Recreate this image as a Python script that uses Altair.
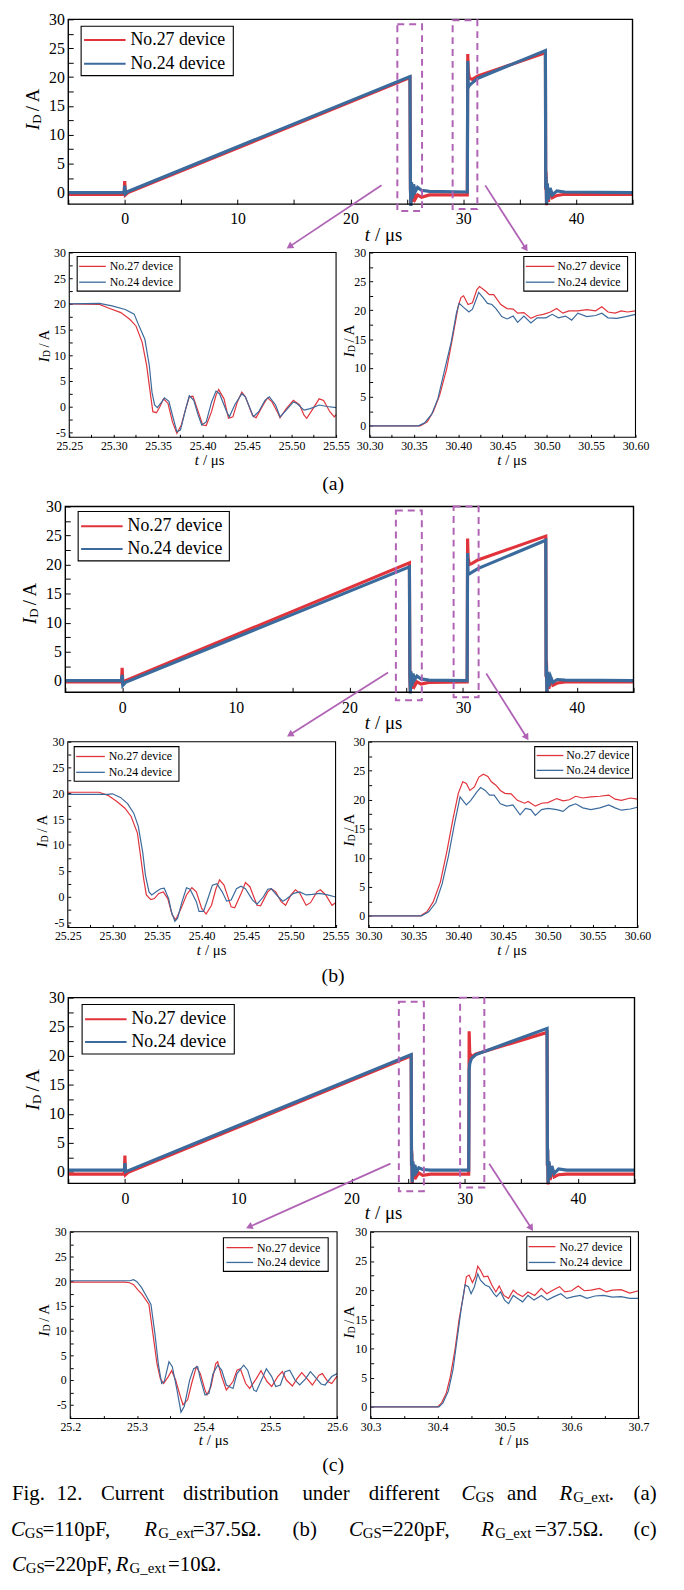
import altair as alt
import pandas as pd

FONT = "Liberation Serif, Times New Roman, serif"
RED = "#e1333b"
BLUE = "#3b6a9c"
PURPLE = "#b063b5"
W, H = 676, 1582
OX, OY = 8, 8
DEVICES = ["No.27 device", "No.24 device"]

# ---------------- main panels (t in us, I_D in A) ----------------
MA_T = [-5.0, -0.05, 0.0, 0.06, 0.3, 25.28, 25.32, 25.36, 25.42, 25.5, 25.6, 25.75, 25.95, 26.3, 27.0,
        30.36, 30.40, 30.44, 30.55, 30.8, 31.3, 37.28, 37.31, 37.34, 37.38, 37.45, 37.55, 37.7, 37.9,
        38.3, 39.0, 45.0]
MA_RED = [-0.3, -0.3, 2.0, -0.4, 0.0, 19.9, 0.5, -2.0, 1.0, -1.6, 0.4, -1.1, -0.4, -0.8, -0.4,
          -0.4, 24.0, 21.0, 19.8, 19.6, 20.2, 24.2, 0.5, 3.6, -2.2, 1.4, -1.6, 0.6, -0.9, -0.5, -0.3, -0.3]
MA_BLUE = [0.0, 0.0, 1.2, -0.2, 0.2, 20.1, 0.8, -2.3, 1.8, -1.0, 1.4, 0.2, 0.9, 0.4, 0.2,
           0.1, 22.8, 18.2, 18.6, 19.0, 19.8, 24.6, 0.8, 2.8, -2.0, 1.6, -1.2, 0.8, -0.4, 0.3, 0.1, 0.0]

MB_T = MA_T
MB_RED = [-0.2, -0.2, 2.2, -0.3, 0.0, 20.3, 0.6, -1.8, 1.2, -1.4, 0.5, -0.9, -0.2, -0.6, -0.3,
          -0.2, 24.5, 21.2, 20.0, 20.2, 20.8, 24.9, 0.6, 3.4, -2.0, 1.4, -1.4, 0.6, -0.8, -0.4, -0.2, -0.2]
MB_BLUE = [0.0, 0.0, 1.0, -0.8, -0.3, 19.6, 0.8, -2.2, 1.6, -1.0, 1.2, 0.2, 0.8, 0.3, 0.1,
           0.0, 22.0, 18.3, 18.4, 18.7, 19.3, 24.2, 0.8, 2.6, -2.0, 1.5, -1.0, 0.7, -0.3, 0.2, 0.1, 0.0]

MC_T = [-5.0, -0.05, 0.0, 0.06, 0.3, 25.28, 25.31, 25.33, 25.37, 25.43, 25.5, 25.6, 25.75, 25.95, 26.3,
        27.0, 30.36, 30.40, 30.45, 30.6, 31.0, 37.28, 37.31, 37.33, 37.37, 37.45, 37.55, 37.7, 37.9,
        38.3, 39.0, 45.0]
MC_RED = [-0.4, -0.4, 2.8, -0.5, -0.1, 20.0, 1.0, 3.6, -2.0, 1.4, -1.3, 0.6, -0.8, -0.2, -0.6,
          -0.4, -0.4, 24.2, 20.5, 19.8, 20.3, 24.0, 1.0, 3.8, -2.2, 1.5, -1.4, 0.5, -0.9, -0.5, -0.4, -0.4]
MC_BLUE = [0.3, 0.3, 1.5, 0.0, 0.2, 20.2, 1.2, 3.2, -1.8, 1.8, -0.8, 1.2, 0.0, 0.7, 0.4,
           0.3, 0.3, 17.5, 18.6, 19.5, 20.2, 24.7, 1.2, 4.0, -1.9, 1.8, -1.0, 1.0, -0.3, 0.5, 0.3, 0.3]

# ---------------- zoomed panels ----------------
SA_L_RED_T = [25.250, 25.284, 25.294, 25.308, 25.318, 25.325, 25.332, 25.337, 25.342, 25.344, 25.348, 25.352,
              25.356, 25.361, 25.366, 25.371, 25.376, 25.381, 25.385, 25.389, 25.395, 25.400, 25.404, 25.410,
              25.415, 25.418, 25.424, 25.429, 25.434, 25.439, 25.444, 25.448, 25.456, 25.460, 25.468, 25.473,
              25.478, 25.485, 25.487, 25.494, 25.502, 25.509, 25.514, 25.517, 25.523, 25.531, 25.536, 25.543,
              25.548, 25.550]
SA_L_RED_V = [20.0, 19.9, 19.2, 18.3, 17.0, 15.7, 12.5, 8.0, 1.5, -1.0, -1.2, 0.0, 1.5, 0.6, -3.0, -5.2, -3.6,
              -0.4, 1.9, 2.0, -1.0, -3.6, -3.7, -1.0, 2.2, 3.3, 1.5, -2.3, -2.0, 0.9, 2.8, 1.9, -1.7, -2.2, 0.3,
              1.7, 0.9, -1.4, -2.2, -0.4, 1.2, 0.3, -1.7, -2.3, -0.7, 1.5, 1.2, -1.0, -2.0, -1.6]
SA_L_BLUE_T = [25.250, 25.284, 25.298, 25.313, 25.323, 25.327, 25.335, 25.340, 25.343, 25.346, 25.349, 25.354,
               25.357, 25.362, 25.366, 25.371, 25.375, 25.381, 25.385, 25.390, 25.395, 25.399, 25.404, 25.410,
               25.415, 25.419, 25.427, 25.430, 25.436, 25.444, 25.448, 25.457, 25.463, 25.470, 25.475, 25.482,
               25.487, 25.494, 25.502, 25.506, 25.514, 25.521, 25.531, 25.540, 25.550]
SA_L_BLUE_V = [20.0, 20.1, 19.6, 18.9, 18.0, 16.3, 13.1, 8.0, 2.8, 0.3, -0.2, 0.9, 1.7, 1.0, -1.7, -4.9, -4.6,
               -0.4, 2.1, 1.2, -1.7, -3.6, -3.0, 0.9, 3.0, 2.5, -1.0, -2.0, 0.3, 2.5, 1.9, -2.0, -1.0, 1.2, 1.9,
               0.3, -2.0, -0.7, 0.9, 0.6, -0.7, -0.4, 0.3, 0.0, -0.2]

SA_R_RED_T = [30.300, 30.357, 30.365, 30.372, 30.379, 30.387, 30.394, 30.400, 30.403, 30.406, 30.411, 30.416,
              30.421, 30.424, 30.431, 30.435, 30.440, 30.448, 30.455, 30.462, 30.467, 30.474, 30.482, 30.489,
              30.496, 30.504, 30.511, 30.518, 30.525, 30.535, 30.545, 30.555, 30.562, 30.569, 30.577, 30.584,
              30.591, 30.600]
SA_R_RED_V = [0.0, 0.0, 0.7, 2.5, 5.3, 9.9, 15.6, 20.7, 22.2, 22.5, 21.0, 21.3, 23.6, 24.1, 23.3, 22.7, 22.7,
              21.0, 20.3, 20.2, 19.5, 19.6, 18.6, 19.1, 19.3, 19.7, 20.3, 19.5, 19.9, 19.9, 20.1, 19.9, 20.6,
              19.7, 19.5, 19.9, 19.7, 19.9]
SA_R_BLUE_T = [30.300, 30.355, 30.362, 30.370, 30.377, 30.384, 30.392, 30.398, 30.401, 30.406, 30.412, 30.416,
               30.421, 30.423, 30.428, 30.433, 30.438, 30.443, 30.449, 30.455, 30.462, 30.467, 30.474, 30.482,
               30.489, 30.499, 30.506, 30.513, 30.521, 30.528, 30.535, 30.545, 30.555, 30.562, 30.569, 30.579,
               30.589, 30.600]
SA_R_BLUE_V = [0.0, 0.0, 0.5, 2.0, 4.7, 9.3, 14.5, 19.6, 21.2, 20.5, 19.7, 20.2, 22.2, 23.1, 22.2, 21.2, 21.0,
               20.2, 18.9, 18.5, 19.0, 17.9, 19.0, 17.8, 18.7, 18.7, 19.3, 18.7, 19.0, 18.3, 19.5, 18.9, 19.1,
               19.5, 18.7, 18.6, 18.9, 19.3]

SB_L_RED_T = [25.250, 25.285, 25.295, 25.305, 25.314, 25.321, 25.328, 25.331, 25.335, 25.338, 25.343, 25.347,
              25.352, 25.357, 25.362, 25.367, 25.371, 25.377, 25.383, 25.389, 25.394, 25.400, 25.405, 25.411,
              25.416, 25.420, 25.425, 25.433, 25.437, 25.445, 25.449, 25.454, 25.462, 25.466, 25.474, 25.478,
              25.483, 25.489, 25.494, 25.500, 25.505, 25.510, 25.517, 25.522, 25.529, 25.533, 25.539, 25.546,
              25.550]
SB_L_RED_V = [20.2, 20.2, 19.6, 18.4, 17.1, 15.5, 12.3, 8.5, 3.4, 0.3, -0.6, -0.4, 0.6, 0.9, -0.4, -3.6, -4.5,
              -2.3, 0.3, 1.7, 0.9, -2.3, -3.4, -1.7, 1.5, 3.2, 2.2, -2.0, -2.2, 0.9, 2.7, 1.9, -1.7, -1.8, 0.9,
              1.5, 0.9, -1.0, -1.7, 0.3, 1.3, 0.6, -1.7, -1.2, 0.9, 1.3, 0.3, -1.7, -1.2]
SB_L_BLUE_T = [25.250, 25.295, 25.300, 25.309, 25.317, 25.324, 25.329, 25.334, 25.337, 25.341, 25.344, 25.349,
               25.354, 25.358, 25.363, 25.366, 25.370, 25.373, 25.378, 25.383, 25.387, 25.394, 25.397, 25.402,
               25.407, 25.412, 25.417, 25.423, 25.428, 25.433, 25.439, 25.444, 25.449, 25.457, 25.462, 25.469,
               25.474, 25.478, 25.486, 25.491, 25.495, 25.503, 25.510, 25.517, 25.524, 25.532, 25.541, 25.550]
SB_L_BLUE_V = [19.8, 19.8, 19.9, 19.2, 18.0, 16.1, 13.6, 8.5, 4.1, 0.9, 0.3, 0.9, 1.5, 1.6, -0.4, -2.9, -4.8,
               -4.2, -1.0, 1.7, 1.4, -1.0, -2.9, -2.9, -0.4, 2.2, 2.5, 0.9, -0.9, -0.7, 1.5, 2.0, 1.5, -0.7,
               -1.5, -0.1, 1.4, 1.5, -0.1, -0.9, -0.5, 0.6, 0.9, 0.3, 0.4, 0.6, 0.3, -0.1]

SB_R_RED_T = [30.300, 30.358, 30.365, 30.372, 30.380, 30.387, 30.394, 30.400, 30.405, 30.409, 30.413, 30.418,
              30.423, 30.428, 30.433, 30.437, 30.442, 30.447, 30.452, 30.459, 30.466, 30.474, 30.478, 30.486,
              30.493, 30.500, 30.510, 30.517, 30.524, 30.531, 30.539, 30.548, 30.558, 30.568, 30.575, 30.582,
              30.592, 30.600]
SB_R_RED_V = [0.0, 0.0, 0.7, 2.4, 5.8, 10.9, 16.6, 21.1, 23.1, 22.8, 21.6, 22.2, 23.9, 24.4, 24.0, 23.1, 22.5,
              21.6, 21.1, 21.0, 19.9, 19.4, 19.7, 18.9, 19.4, 19.5, 20.2, 19.8, 20.0, 20.6, 20.3, 20.5, 20.6,
              20.8, 20.1, 19.9, 20.3, 20.1]
SB_R_BLUE_T = [30.300, 30.359, 30.367, 30.375, 30.382, 30.389, 30.396, 30.402, 30.405, 30.409, 30.414, 30.421,
               30.425, 30.430, 30.435, 30.440, 30.447, 30.454, 30.461, 30.469, 30.475, 30.481, 30.486, 30.493,
               30.500, 30.510, 30.517, 30.524, 30.531, 30.539, 30.548, 30.558, 30.568, 30.575, 30.582, 30.592,
               30.600]
SB_R_BLUE_V = [0.0, 0.0, 0.7, 2.3, 5.5, 10.3, 16.0, 20.5, 19.9, 19.1, 19.9, 21.4, 22.1, 21.6, 20.8, 20.8, 19.3,
               18.9, 19.1, 17.4, 18.5, 18.3, 17.3, 18.3, 18.5, 18.3, 18.0, 18.9, 19.3, 18.6, 18.3, 18.6, 19.1,
               18.6, 18.2, 18.4, 18.7]

SC_L_RED_T = [25.200, 25.282, 25.289, 25.295, 25.301, 25.308, 25.318, 25.324, 25.330, 25.335, 25.340, 25.347,
              25.352, 25.358, 25.365, 25.369, 25.376, 25.382, 25.389, 25.395, 25.402, 25.405, 25.411, 25.418,
              25.421, 25.427, 25.434, 25.444, 25.450, 25.455, 25.463, 25.469, 25.479, 25.486, 25.495, 25.502,
              25.511, 25.518, 25.524, 25.533, 25.540, 25.547, 25.555, 25.563, 25.573, 25.578, 25.586, 25.592,
              25.600]
SC_L_RED_V = [19.8, 19.8, 19.7, 19.3, 18.3, 17.3, 15.3, 9.3, 3.3, 0.3, -0.7, 0.7, 1.9, 0.0, -3.3, -5.0, -4.0,
              -0.7, 2.7, 1.3, -2.0, -3.0, -1.3, 3.3, 3.7, 0.7, -2.0, -0.3, 2.0, 2.3, -0.7, -1.7, 0.3, 1.9, -0.3,
              -1.3, 0.7, 1.7, 0.0, -1.2, 0.3, 1.5, 0.3, -1.0, 1.0, 1.3, -0.3, -0.7, 0.8]
SC_L_BLUE_T = [25.200, 25.289, 25.295, 25.300, 25.307, 25.314, 25.321, 25.327, 25.332, 25.337, 25.341, 25.348,
               25.353, 25.360, 25.366, 25.371, 25.379, 25.385, 25.391, 25.395, 25.402, 25.408, 25.414, 25.421,
               25.427, 25.434, 25.444, 25.450, 25.460, 25.466, 25.475, 25.479, 25.489, 25.494, 25.502, 25.508,
               25.515, 25.522, 25.529, 25.537, 25.544, 25.553, 25.560, 25.566, 25.576, 25.582, 25.592, 25.600]
SC_L_BLUE_V = [20.1, 20.1, 20.3, 19.9, 18.7, 17.0, 15.3, 9.3, 3.3, -0.7, -0.3, 3.7, 2.7, -2.0, -6.5, -5.3, 0.0,
               2.3, 2.7, 0.3, -3.0, -2.7, 1.3, 3.0, 2.0, -1.0, -1.7, 1.3, 3.0, 2.0, -2.0, -2.3, 0.7, 2.3, 0.7,
               -1.3, -1.0, 1.7, 2.0, 0.0, -1.0, 0.3, 1.7, 0.8, -0.8, -1.0, 0.7, 1.3]

SC_R_RED_T = [30.300, 30.400, 30.406, 30.413, 30.419, 30.426, 30.432, 30.439, 30.443, 30.447, 30.452, 30.456,
              30.460, 30.464, 30.469, 30.475, 30.481, 30.487, 30.492, 30.499, 30.506, 30.513, 30.519, 30.527,
              30.535, 30.545, 30.555, 30.563, 30.572, 30.582, 30.590, 30.600, 30.610, 30.619, 30.629, 30.642,
              30.652, 30.661, 30.674, 30.687, 30.700]
SC_R_RED_V = [0.0, 0.0, 0.7, 2.4, 5.2, 9.8, 14.9, 19.4, 22.3, 22.6, 21.3, 22.2, 24.1, 23.4, 22.3, 22.4, 20.9,
              19.7, 20.7, 19.1, 18.6, 20.0, 19.4, 18.9, 19.7, 19.1, 20.3, 19.4, 20.0, 20.6, 19.7, 19.9, 20.7,
              19.9, 20.0, 20.3, 19.7, 20.0, 20.1, 19.5, 19.9]
SC_R_BLUE_T = [30.300, 30.402, 30.408, 30.416, 30.423, 30.429, 30.435, 30.441, 30.446, 30.450, 30.455, 30.460,
               30.464, 30.471, 30.477, 30.484, 30.488, 30.494, 30.500, 30.506, 30.513, 30.519, 30.527, 30.535,
               30.544, 30.555, 30.564, 30.574, 30.584, 30.593, 30.603, 30.613, 30.623, 30.635, 30.648, 30.661,
               30.674, 30.687, 30.700]
SC_R_BLUE_V = [0.0, 0.0, 0.7, 2.7, 6.4, 11.5, 16.6, 20.9, 20.6, 19.4, 20.6, 22.8, 21.7, 20.9, 20.6, 19.4, 18.9,
               19.7, 18.3, 17.7, 19.1, 18.6, 18.0, 19.1, 18.3, 19.1, 18.3, 18.9, 19.4, 18.6, 18.9, 19.1, 18.6,
               19.0, 19.1, 18.8, 18.9, 18.6, 18.6]

# ---------------- ticks ----------------
MAIN_XTICKS = [-5, 0, 5, 10, 15, 20, 25, 30, 35, 40, 45]
MAIN_XLABELS = [0, 10, 20, 30, 40]
MAIN_YTICKS = [0, 2.5, 5, 7.5, 10, 12.5, 15, 17.5, 20, 22.5, 25, 27.5, 30]
MAIN_YLABELS = [0, 5, 10, 15, 20, 25, 30]
SUB_L_XLABELS = [25.25, 25.30, 25.35, 25.40, 25.45, 25.50, 25.55]
SUB_L_XTICKS = [25.25, 25.275, 25.30, 25.325, 25.35, 25.375, 25.40, 25.425, 25.45, 25.475, 25.50, 25.525, 25.55]
SUB_R_XLABELS = [30.30, 30.35, 30.40, 30.45, 30.50, 30.55, 30.60]
SUB_R_XTICKS = [30.30, 30.325, 30.35, 30.375, 30.40, 30.425, 30.45, 30.475, 30.50, 30.525, 30.55, 30.575, 30.60]
SUBC_L_XLABELS = [25.2, 25.3, 25.4, 25.5, 25.6]
SUBC_L_XTICKS = [25.2, 25.25, 25.3, 25.35, 25.4, 25.45, 25.5, 25.55, 25.6]
SUBC_R_XLABELS = [30.3, 30.4, 30.5, 30.6, 30.7]
SUBC_R_XTICKS = [30.3, 30.35, 30.4, 30.45, 30.5, 30.55, 30.6, 30.65, 30.7]
SUB_L_YLABELS = [-5, 0, 5, 10, 15, 20, 25, 30]
SUB_L_YTICKS = [-5, -2.5, 0, 2.5, 5, 7.5, 10, 12.5, 15, 17.5, 20, 22.5, 25, 27.5, 30]
SUB_R_YLABELS = [0, 5, 10, 15, 20, 25, 30]
SUB_R_YTICKS = MAIN_YTICKS

# dashed zoom boxes and arrows (main-panel data coordinates)
MA_BOX = dict(x0=[24.16, 29.06], x1=[26.35, 31.25], y0=[-3.2, -2.86], y1=[29.14, 29.83])
MB_BOX = dict(x0=[24.09, 29.17], x1=[26.37, 31.37], y0=[-3.36, -2.85], y1=[29.3, 30.0])
MC_BOX = dict(x0=[24.19, 29.6], x1=[26.4, 31.74], y0=[-3.36, -2.7], y1=[29.3, 30.0])
MA_ARROW = dict(xa=[22.76, 31.95], ya=[1.25, 1.25], xb=[14.6, 35.54], yb=[-9.36, -9.7], ang=[236, 147])
MB_ARROW = dict(xa=[23.4, 32.04], ya=[1.4, 1.23], xb=[14.76, 35.6], yb=[-9.3, -9.8], ang=[238, 148])
MC_ARROW = dict(xa=[23.45, 32.17], ya=[1.4, 1.4], xb=[10.97, 35.88], yb=[-9.5, -9.7], ang=[246, 147])

PANEL_LABELS = ["(a)", "(b)", "(c)"]

CAPTION_BASELINES = [1508, 1545, 1580]
CAPTION = [
    (0, 12, "Fig.", "n"), (0, 57, "12.", "n"), (0, 102, "Current", "n"), (0, 185, "distribution", "n"),
    (0, 306, "under", "n"), (0, 373, "different", "n"), (0, 467, "C", "i"), (0, 481, "GS", "s"),
    (0, 513, "and", "n"), (0, 566, "R", "i"), (0, 580, "G_ext", "s"), (0, 616, ".", "n"), (0, 641, "(a)", "n"),
    (1, 11, "C", "i"), (1, 25, "GS", "s"), (1, 43, "=110pF,", "n"), (1, 146, "R", "i"), (1, 160, "G_ext", "s"),
    (1, 195, "=37.5Ω.", "n"), (1, 296, "(b)", "n"), (1, 353, "C", "i"), (1, 367, "GS", "s"),
    (1, 386, "=220pF,", "n"), (1, 487, "R", "i"), (1, 501, "G_ext", "s"), (1, 541, "=37.5Ω.", "n"),
    (1, 641, "(c)", "n"),
    (2, 12, "C", "i"), (2, 26, "GS", "s"), (2, 44, "=220pF,", "n"), (2, 117, "R", "i"), (2, 131, "G_ext", "s"),
    (2, 170, "=10Ω.", "n"),
]
CAP_FS = 21
CAP_SUB_FS = 15

# ---------------- layout (page pixels) ----------------
MAIN_STYLE = dict(lfs=16, lpx=7, lpy=4, tl=5, lw=3.2, fw=1.4, xfmt="d",
                  xlabels=MAIN_XLABELS, xticks=MAIN_XTICKS, ylabels=MAIN_YLABELS, yticks=MAIN_YTICKS,
                  xdom=[-5, 45], ydom=[-2, 30])
SUB_STYLE = dict(lfs=12, lpx=3, lpy=4, tl=3, lw=1.2, fw=1.1)

PANELS = [
    dict(MAIN_STYLE, box=(69, 640, 10, 197), series=(MA_T, MA_RED, MA_T, MA_BLUE), boxes=MA_BOX, arrows=MA_ARROW,
         legend=dict(box=(82, 17, 236, 67), rows=(31, 55), sample=(85, 127), tx=132, fs=18, sw=2.0),
         xt=(369, 228, 19), yt=(33, 122, 19)),
    dict(SUB_STYLE, box=(70, 340, 246, 433), xdom=[25.25, 25.55], ydom=[-6, 30], xfmt=".2f",
         series=(SA_L_RED_T, SA_L_RED_V, SA_L_BLUE_T, SA_L_BLUE_V),
         xlabels=SUB_L_XLABELS, xticks=SUB_L_XTICKS, ylabels=SUB_L_YLABELS, yticks=SUB_L_YTICKS,
         legend=dict(box=(78, 250, 182, 285), rows=(260, 276), sample=(80, 107), tx=111, fs=12, sw=1.3),
         xt=(197, 456, 15), yt=(44, 357, 15)),
    dict(SUB_STYLE, box=(374, 643, 246, 433), xdom=[30.30, 30.60], ydom=[-2, 30], xfmt=".2f",
         series=(SA_R_RED_T, SA_R_RED_V, SA_R_BLUE_T, SA_R_BLUE_V),
         xlabels=SUB_R_XLABELS, xticks=SUB_R_XTICKS, ylabels=SUB_R_YLABELS, yticks=SUB_R_YTICKS,
         legend=dict(box=(530, 250, 635, 285), rows=(260, 276), sample=(532, 561), tx=564, fs=12, sw=1.3),
         xt=(503, 456, 15), yt=(353, 352, 15)),
    dict(MAIN_STYLE, box=(66, 641, 503, 691), series=(MB_T, MB_RED, MB_T, MB_BLUE), boxes=MB_BOX, arrows=MB_ARROW,
         legend=dict(box=(79, 508, 232, 558), rows=(523, 546), sample=(82, 124), tx=129, fs=18, sw=2.0),
         xt=(369, 722, 19), yt=(30, 622, 19)),
    dict(SUB_STYLE, box=(68.5, 339.5, 741, 929), xdom=[25.25, 25.55], ydom=[-6, 30], xfmt=".2f",
         series=(SB_L_RED_T, SB_L_RED_V, SB_L_BLUE_T, SB_L_BLUE_V),
         xlabels=SUB_L_XLABELS, xticks=SUB_L_XTICKS, ylabels=SUB_L_YLABELS, yticks=SUB_L_YTICKS,
         legend=dict(box=(75, 746, 181, 781), rows=(756, 772), sample=(77, 106), tx=110, fs=12, sw=1.3),
         xt=(199, 952, 15), yt=(42, 848, 15)),
    dict(SUB_STYLE, box=(373, 645, 741, 929), xdom=[30.30, 30.60], ydom=[-2, 30], xfmt=".2f",
         series=(SB_R_RED_T, SB_R_RED_V, SB_R_BLUE_T, SB_R_BLUE_V),
         xlabels=SUB_R_XLABELS, xticks=SUB_R_XTICKS, ylabels=SUB_R_YLABELS, yticks=SUB_R_YTICKS,
         legend=dict(box=(541, 746, 640, 778), rows=(755, 770), sample=(543, 570), tx=573, fs=12, sw=1.3),
         xt=(503, 952, 15), yt=(353, 847, 15)),
    dict(MAIN_STYLE, box=(69, 642, 1000, 1188), series=(MC_T, MC_RED, MC_T, MC_BLUE), boxes=MC_BOX, arrows=MC_ARROW,
         legend=dict(box=(83, 1007, 237, 1057), rows=(1022, 1045), sample=(86, 128), tx=133, fs=18, sw=2.0),
         xt=(369, 1218, 19), yt=(33, 1114, 19)),
    dict(SUB_STYLE, box=(71, 341, 1237, 1426), xdom=[25.2, 25.6], ydom=[-7.8, 30], xfmt=".1f",
         series=(SC_L_RED_T, SC_L_RED_V, SC_L_BLUE_T, SC_L_BLUE_V),
         xlabels=SUBC_L_XLABELS, xticks=SUBC_L_XTICKS, ylabels=SUB_L_YLABELS, yticks=SUB_L_YTICKS,
         legend=dict(box=(226, 1243, 332, 1277), rows=(1253, 1268), sample=(229, 256), tx=260, fs=12, sw=1.3),
         xt=(201, 1448, 15), yt=(44, 1343, 15)),
    dict(SUB_STYLE, box=(375, 646, 1237, 1426), xdom=[30.3, 30.7], ydom=[-2, 30], xfmt=".1f",
         series=(SC_R_RED_T, SC_R_RED_V, SC_R_BLUE_T, SC_R_BLUE_V),
         xlabels=SUBC_R_XLABELS, xticks=SUBC_R_XTICKS, ylabels=SUB_R_YLABELS, yticks=SUB_R_YTICKS,
         legend=dict(box=(533, 1242, 638, 1276), rows=(1252, 1268), sample=(535, 562), tx=566, fs=12, sw=1.3),
         xt=(505, 1448, 15), yt=(353, 1345, 15)),
]
LABEL_POS = [(337, 480), (337, 978), (337, 1473)]


def vx(v):
    return v - OX


def vy(v):
    return v - OY


NEG = "datum.value < 0 ? '-' + format(-datum.value, '{f}') : format(datum.value, '{f}')"


def panel_chart(cfg):
    L, R, T, B = cfg["box"]
    xs = alt.Scale(domain=cfg["xdom"], range=[vx(L), vx(R)], nice=False, zero=False)
    ys = alt.Scale(domain=cfg["ydom"], range=[vy(B), vy(T)], nice=False, zero=False)
    rt, rv, bt, bv = cfg["series"]
    n_r = min(len(rt), len(rv))
    n_b = min(len(bt), len(bv))
    df = pd.DataFrame({
        "t": list(rt[:n_r]) + list(bt[:n_b]),
        "v": list(rv[:n_r]) + list(bv[:n_b]),
        "col": [RED] * n_r + [BLUE] * n_b,
    })
    lab_x = alt.Axis(orient="bottom", offset=vy(B) - H, values=cfg["xlabels"], ticks=False, domain=False,
                     grid=False, labelFont=FONT, labelFontSize=cfg["lfs"], labelColor="black",
                     labelPadding=cfg["lpx"], labelFlush=False, labelOverlap=False,
                     labelExpr=NEG.format(f=cfg["xfmt"]), title=None)
    lab_y = alt.Axis(orient="left", offset=-vx(L), values=cfg["ylabels"], ticks=False, domain=False,
                     grid=False, labelFont=FONT, labelFontSize=cfg["lfs"], labelColor="black",
                     labelPadding=cfg["lpy"], labelOverlap=False, labelExpr=NEG.format(f="d"), title=None)
    lines = alt.Chart(df).mark_line(strokeWidth=cfg["lw"]).encode(
        x=alt.X("t:Q", scale=xs, axis=lab_x),
        y=alt.Y("v:Q", scale=ys, axis=lab_y),
        color=alt.Color("col:N", scale=None, legend=None),
    )
    fr = pd.DataFrame({"x0": [cfg["xdom"][0]], "x1": [cfg["xdom"][1]],
                       "y0": [cfg["ydom"][0]], "y1": [cfg["ydom"][1]]})
    tick_x = alt.Axis(orient="top", offset=-vy(B), values=cfg["xticks"], labels=False, domain=False,
                      grid=False, ticks=True, tickSize=cfg["tl"], tickColor="black", tickWidth=1, title=None)
    tick_y = alt.Axis(orient="right", offset=vx(L) - W, values=cfg["yticks"], labels=False, domain=False,
                      grid=False, ticks=True, tickSize=cfg["tl"], tickColor="black", tickWidth=1, title=None)
    frame = alt.Chart(fr).mark_rect(fillOpacity=0, stroke="black", strokeWidth=cfg["fw"]).encode(
        x=alt.X("x0:Q", scale=xs, axis=tick_x), x2="x1:Q",
        y=alt.Y("y0:Q", scale=ys, axis=tick_y), y2="y1:Q",
    )
    layers = [lines, frame]
    if "boxes" in cfg:
        bdf = pd.DataFrame(cfg["boxes"])
        layers.append(alt.Chart(bdf).mark_rect(fillOpacity=0, stroke=PURPLE, strokeWidth=2,
                                               strokeDash=[7, 5]).encode(
            x=alt.X("x0:Q", scale=xs, axis=None), x2="x1:Q",
            y=alt.Y("y0:Q", scale=ys, axis=None), y2="y1:Q"))
        adf = pd.DataFrame(cfg["arrows"])
        layers.append(alt.Chart(adf).mark_rule(stroke=PURPLE, strokeWidth=1.8).encode(
            x=alt.X("xa:Q", scale=xs, axis=None), x2="xb:Q",
            y=alt.Y("ya:Q", scale=ys, axis=None), y2="yb:Q"))
        layers.append(alt.Chart(adf).mark_point(shape="triangle-up", filled=True, size=60, color=PURPLE,
                                                opacity=1).encode(
            x=alt.X("xb:Q", scale=xs, axis=None),
            y=alt.Y("yb:Q", scale=ys, axis=None),
            angle=alt.Angle("ang:Q", scale=None)))
    return alt.layer(*layers).resolve_axis(x="independent", y="independent")


panels = [panel_chart(p) for p in PANELS]

# ---------------- legends, titles, caption ----------------
box_rows, line_rows, text_rows = [], [], []
for p in PANELS:
    lg = p["legend"]
    x0, y0, x1, y1 = lg["box"]
    box_rows.append({"x0": vx(x0), "x1": vx(x1), "y0": vy(y0), "y1": vy(y1)})
    for name, col, ry in zip(DEVICES, [RED, BLUE], lg["rows"]):
        line_rows.append({"x0": vx(lg["sample"][0]), "x1": vx(lg["sample"][1]), "y": vy(ry),
                          "col": col, "sw": lg["sw"]})
        text_rows.append({"x": vx(lg["tx"]), "y": vy(ry), "text": name, "fs": lg["fs"], "kind": "n"})
    tx, ty, tfs = p["xt"]
    text_rows.append({"x": vx(tx), "y": vy(ty), "text": "t", "fs": tfs, "kind": "i"})
    text_rows.append({"x": vx(tx + 0.55 * tfs), "y": vy(ty), "text": "/ μs", "fs": tfs, "kind": "n"})
    yx, yb, yfs = p["yt"]
    text_rows.append({"x": vx(yx), "y": vy(yb), "text": "I", "fs": yfs, "kind": "ri"})
    text_rows.append({"x": vx(yx + 0.22 * yfs), "y": vy(yb - 0.34 * yfs), "text": "D",
                      "fs": round(yfs * 0.68, 1), "kind": "rn"})
    text_rows.append({"x": vx(yx), "y": vy(yb - 1.0 * yfs), "text": "/ A", "fs": yfs, "kind": "rn"})

for lab, (lx, ly) in zip(PANEL_LABELS, LABEL_POS):
    text_rows.append({"x": vx(lx), "y": vy(ly), "text": lab, "fs": 20, "kind": "c"})

for line, x, text, st in CAPTION:
    base = CAPTION_BASELINES[line]
    if st == "s":
        text_rows.append({"x": vx(x), "y": vy(base + 2), "text": text, "fs": CAP_SUB_FS, "kind": "capn"})
    elif st == "i":
        text_rows.append({"x": vx(x), "y": vy(base), "text": text, "fs": CAP_FS, "kind": "capi"})
    else:
        text_rows.append({"x": vx(x), "y": vy(base), "text": text, "fs": CAP_FS, "kind": "capn"})

tdf = pd.DataFrame(text_rows)

leg_boxes = alt.Chart(pd.DataFrame(box_rows)).mark_rect(fill="white", stroke="black", strokeWidth=1.1).encode(
    x=alt.X("x0:Q", scale=None, axis=None), x2="x1:Q",
    y=alt.Y("y0:Q", scale=None, axis=None), y2="y1:Q")
leg_lines = alt.Chart(pd.DataFrame(line_rows)).mark_rule().encode(
    x=alt.X("x0:Q", scale=None, axis=None), x2="x1:Q",
    y=alt.Y("y:Q", scale=None, axis=None),
    color=alt.Color("col:N", scale=None, legend=None),
    strokeWidth=alt.StrokeWidth("sw:Q", scale=None, legend=None))


def text_layer(kind, align, baseline, style, angle):
    sub = tdf[tdf["kind"] == kind]
    return alt.Chart(sub).mark_text(align=align, baseline=baseline, font=FONT, fontStyle=style,
                                    angle=angle, color="black").encode(
        x=alt.X("x:Q", scale=None, axis=None),
        y=alt.Y("y:Q", scale=None, axis=None),
        text="text:N",
        size=alt.Size("fs:Q", scale=None, legend=None))


texts = [
    text_layer("n", "left", "middle", "normal", 0),
    text_layer("i", "left", "middle", "italic", 0),
    text_layer("c", "center", "middle", "normal", 0),
    text_layer("rn", "left", "middle", "normal", 270),
    text_layer("ri", "left", "middle", "italic", 270),
    text_layer("capn", "left", "alphabetic", "normal", 0),
    text_layer("capi", "left", "alphabetic", "italic", 0),
]

chart = alt.layer(*panels, leg_boxes, leg_lines, *texts).resolve_scale(
    x="independent", y="independent"
).resolve_axis(
    x="independent", y="independent"
).properties(
    width=W, height=H, padding=0, autosize=alt.AutoSizeParams(type="none")
).configure_view(stroke=None)

chart.save("out.html", embed_options={"renderer": "svg", "actions": False})
